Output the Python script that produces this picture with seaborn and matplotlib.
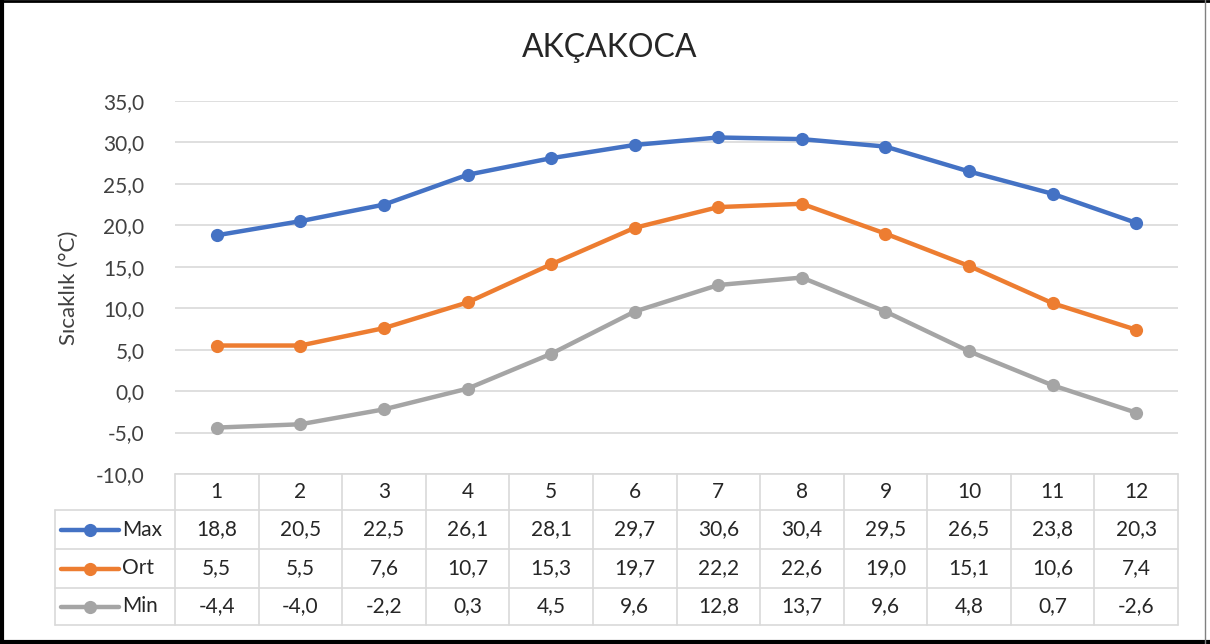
import numpy as np
import pandas as pd
import seaborn as sns
import matplotlib.pyplot as plt
from matplotlib.lines import Line2D
from matplotlib.ticker import FuncFormatter

# data
months = ["1", "2", "3", "4", "5", "6", "7", "8", "9", "10", "11", "12"]
max_vals = [18.8, 20.5, 22.5, 26.1, 28.1, 29.7, 30.6, 30.4, 29.5, 26.5, 23.8, 20.3]
ort_vals = [5.5, 5.5, 7.6, 10.7, 15.3, 19.7, 22.2, 22.6, 19.0, 15.1, 10.6, 7.4]
min_vals = [-4.4, -4.0, -2.2, 0.3, 4.5, 9.6, 12.8, 13.7, 9.6, 4.8, 0.7, -2.6]
series_names = ["Max", "Ort", "Min"]
colors = ["#4472C4", "#ED7D31", "#A5A5A5"]

series = {"Max": max_vals, "Ort": ort_vals, "Min": min_vals}
df = pd.concat([
    pd.DataFrame({"idx": np.arange(len(months)), "value": v, "series": k})
    for k, v in series.items()
])

sns.set_style("white")
plt.rcParams["font.family"] = ["Lato", "DejaVu Sans"]

FS = 15
fig = plt.figure(figsize=(12.1, 6.44), dpi=100)
W, H = 1210, 644
# plot area in pixels: x 175..1178, y 101..474
ax = fig.add_axes([175 / W, 1 - 474 / H, (1178 - 175) / W, (474 - 101) / H])

palette = dict(zip(series_names, colors))
sns.lineplot(data=df, x="idx", y="value", hue="series", palette=palette,
             marker="o", markersize=9.5, markeredgewidth=0, linewidth=3.2,
             legend=False, ax=ax)

ax.set_xlim(-0.5, len(months) - 0.5)
ax.set_ylim(-10, 35)
ax.set_yticks(np.arange(-10, 36, 5))
ax.yaxis.set_major_formatter(FuncFormatter(lambda v, p: f"{v:.1f}".replace(".", ",")))
ax.tick_params(axis="y", length=0, pad=22, labelsize=FS, labelcolor="#404040")
ax.set_xticks([])
ax.set_xlabel("")
ax.set_ylabel("Sıcaklık (°C)", fontsize=16, color="#404040", labelpad=12)
ax.grid(axis="y", color="#D9D9D9", linewidth=1.2)
ax.set_axisbelow(True)
for s in ax.spines.values():
    s.set_visible(False)

fig.text(610 / W, 1 - 48 / H, "AKÇAKOCA", ha="center", va="center",
         fontsize=23, color="#262626")

# data table below the plot
ph = 474 - 101
def yf(py):
    return -(py - 474) / ph

row_edges = [474, 510, 549, 588, 625]
grid_c = "#D9D9D9"
trans = ax.get_xaxis_transform()
n = len(months)
def xd(px):
    return -0.5 + (px - 175) / (1178 - 175) * n

# horizontal lines
for i, py in enumerate(row_edges):
    x0 = -0.5 if i == 0 else xd(55)
    ax.plot([x0, n - 0.5], [yf(py), yf(py)], color=grid_c, lw=1.2,
            transform=trans, clip_on=False)
# vertical lines
for j in range(n + 1):
    ax.plot([j - 0.5, j - 0.5], [yf(474), yf(625)], color=grid_c, lw=1.2,
            transform=trans, clip_on=False)
ax.plot([xd(55), xd(55)], [yf(510), yf(625)], color=grid_c, lw=1.2,
        transform=trans, clip_on=False)

# header row
ymid = (yf(474) + yf(510)) / 2
for j, m in enumerate(months):
    ax.text(j, ymid, m, ha="center", va="center", fontsize=FS,
            color="#262626", transform=trans)

# series rows
for r, name in enumerate(series_names):
    yc = (yf(row_edges[r + 1]) + yf(row_edges[r + 2])) / 2
    for j, v in enumerate(series[name]):
        ax.text(j, yc, f"{v:.1f}".replace(".", ","), ha="center", va="center",
                fontsize=FS, color="#262626", transform=trans)
    lx0, lx1 = xd(61), xd(119)
    ax.add_line(Line2D([lx0, lx1], [yc, yc], color=colors[r], lw=3.2,
                       transform=trans, clip_on=False))
    ax.add_line(Line2D([(lx0 + lx1) / 2], [yc], color=colors[r], marker="o",
                       markersize=9.5, markeredgewidth=0, transform=trans,
                       clip_on=False))
    ax.text(xd(122), yc, name, ha="left", va="center", fontsize=FS,
            color="#262626", transform=trans)

# outer frame
fig.add_artist(Line2D([0.002, 0.002], [0, 1], color="black", lw=3))
fig.add_artist(Line2D([0, 1], [0.003, 0.003], color="black", lw=3))
fig.add_artist(Line2D([0, 1], [0.998, 0.998], color="black", lw=2))
fig.add_artist(Line2D([0.996, 0.996], [0, 1], color="#808080", lw=1))

fig.savefig("out.png", dpi=100, facecolor="white")
